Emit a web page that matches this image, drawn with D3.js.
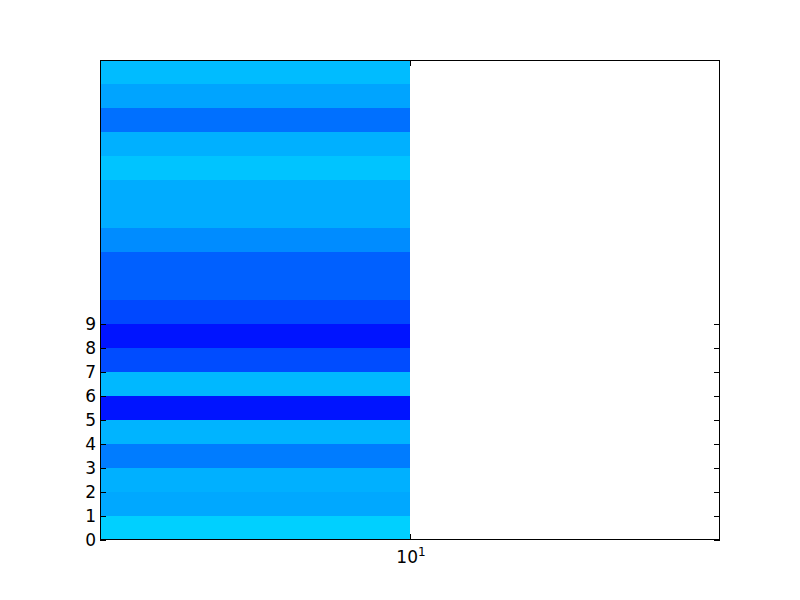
<!DOCTYPE html>
<html><head><meta charset="utf-8">
<script src="https://cdn.jsdelivr.net/npm/d3@7"></script>
<style>body{margin:0;background:#fff;} text{font-family:"DejaVu Sans",sans-serif;}</style>
</head><body>
<svg id="c" width="800" height="600"></svg>
<script>
// cell values (green level of colormap, 0 = blue, 255 = cyan), rows bottom to top
const rowValues = [208,168,176,124,180,20,184,76,20,72,96,96,140,172,172,196,176,112,164,188];
const xEdges = [1, 10];
const xDomain = [1, 100];
const yDomain = [0, 20];
const yTicks = [0,1,2,3,4,5,6,7,8,9];
const xTicks = [10];

const svg = d3.select("#c");
const L=100, R=720, T=60, B=540;
const x = d3.scaleLog().domain(xDomain).range([L,R]);
const y = d3.scaleLinear().domain(yDomain).range([B,T]);
const color = d3.scaleLinear().domain([0,255]).range(["#0000ff","#00ffff"]);

svg.append("g").selectAll("rect").data(rowValues).join("rect")
  .attr("x", x(xEdges[0])).attr("width", x(xEdges[1])-x(xEdges[0]))
  .attr("y", (d,i)=>y(i+1)).attr("height", (d,i)=>y(i)-y(i+1))
  .attr("fill", d=>color(d)).attr("shape-rendering","crispEdges");

// y ticks (inward, both sides)
const g = svg.append("g").attr("stroke","#000").attr("stroke-width",1);
yTicks.forEach(t=>{
  const yy = Math.round(y(t))+0.5;
  g.append("line").attr("x1",L).attr("x2",L+6).attr("y1",yy).attr("y2",yy);
  g.append("line").attr("x1",R-6).attr("x2",R).attr("y1",yy).attr("y2",yy);
});
xTicks.forEach(t=>{
  const xx = Math.round(x(t))+0.5;
  g.append("line").attr("x1",xx).attr("x2",xx).attr("y1",B).attr("y2",B-6);
  g.append("line").attr("x1",xx).attr("x2",xx).attr("y1",T).attr("y2",T+6);
});
svg.append("rect").attr("x",L+0.5).attr("y",T+0.5).attr("width",R-L-1).attr("height",B-T-1)
  .attr("fill","none").attr("stroke","#000").attr("stroke-width",1);

svg.append("g").selectAll("text").data(yTicks).join("text")
  .attr("x",L-4).attr("y",d=>y(d)).attr("dy","0.36em")
  .attr("text-anchor","end").attr("font-size",17).text(d=>d);

xTicks.forEach(t=>{
  const txt = svg.append("text").attr("x",x(t)+1).attr("y",563).attr("text-anchor","middle").attr("font-size",17);
  txt.append("tspan").text("10");
  txt.append("tspan").attr("dy",-7).attr("font-size",12).text(Math.round(Math.log10(t)));
});
</script>
</body></html>
